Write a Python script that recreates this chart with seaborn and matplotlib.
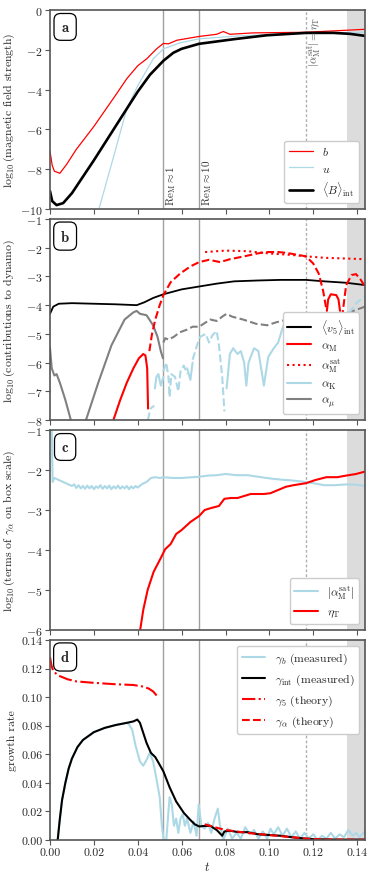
import matplotlib

matplotlib.use("Agg")
import matplotlib.pyplot as plt
import seaborn as sns
from matplotlib.lines import Line2D


T_MAX = 0.1436
T_RE1 = 0.0517
T_RE10 = 0.0679
T_SAT = 0.1167
T_SHADE = 0.1356

# panel a: log10(magnetic field strength)
a_b_t = [0, 0.001, 0.002, 0.0045, 0.0076, 0.012, 0.02, 0.0304, 0.035, 0.04, 0.0441, 0.0486,
         0.0517, 0.054, 0.0578, 0.0679, 0.076, 0.079, 0.082, 0.0927, 0.1167, 0.1436]
a_b_v = [-7.1, -7.8, -8.1, -8.2, -7.75, -7.0, -5.85, -4.2, -3.45, -2.8, -2.45, -1.95,
         -1.68, -1.7, -1.52, -1.33, -1.22, -1.08, -1.22, -1.15, -1.12, -0.97]
a_u_t = [0.0223, 0.0289, 0.035, 0.04, 0.0471, 0.0517, 0.0593, 0.0679, 0.0836, 0.1167, 0.1436]
a_u_v = [-10.0, -7.4, -4.96, -3.8, -2.45, -1.95, -1.65, -1.45, -1.32, -1.15, -1.12]
a_B_t = [0, 0.001, 0.003, 0.006, 0.01, 0.02, 0.035, 0.04, 0.0456, 0.0517, 0.0562, 0.06,
         0.0679, 0.0836, 0.0988, 0.1167, 0.1292, 0.1368, 0.1436]
a_B_v = [-9.1, -9.6, -9.8, -9.7, -9.2, -7.55, -4.96, -4.1, -3.25, -2.55, -2.15, -1.95,
         -1.7, -1.47, -1.27, -1.15, -1.15, -1.2, -1.3]

# panel b: contributions to dynamo
b_v5_t = [0, 0.0015, 0.004, 0.01, 0.02, 0.03, 0.0395, 0.043, 0.047, 0.0517, 0.06, 0.068,
          0.076, 0.084, 0.095, 0.105, 0.1167, 0.125, 0.135, 0.1436]
b_v5_v = [-4.3, -4.05, -3.95, -3.93, -3.95, -3.97, -4.0, -3.9, -3.75, -3.62, -3.45, -3.35,
          -3.25, -3.17, -3.14, -3.12, -3.12, -3.17, -3.22, -3.3]
b_aM_pos1_t = [0.0289, 0.032, 0.035, 0.038, 0.0405, 0.0425, 0.0435, 0.0443, 0.0447]
b_aM_pos1_v = [-8.0, -7.3, -6.7, -6.2, -5.85, -5.7, -5.75, -6.2, -7.6]
b_aM_neg1_t = [0.0453, 0.0465, 0.048, 0.05, 0.0517, 0.055, 0.0593, 0.064, 0.068, 0.0725,
               0.0775, 0.082, 0.0885, 0.0945, 0.0988, 0.104, 0.1079, 0.1167, 0.12, 0.1225,
               0.1245, 0.126]
b_aM_neg1_v = [-5.6, -5.0, -4.5, -4.0, -3.65, -3.2, -2.9, -2.65, -2.5, -2.42,
               -2.5, -2.4, -2.3, -2.2, -2.15, -2.15, -2.18, -2.3, -2.55, -2.9,
               -3.5, -4.15]
b_aM_pos2_t = [0.1262, 0.1268, 0.128, 0.1305, 0.1315, 0.1322]
b_aM_pos2_v = [-4.2, -3.8, -3.62, -3.65, -3.8, -4.2]
b_aM_neg2_t = [0.1325, 0.1328, 0.1335, 0.135, 0.1375, 0.1395, 0.1415, 0.1436]
b_aM_neg2_v = [-4.3, -6.1, -4.2, -3.3, -2.95, -2.92, -3.1, -3.35]
b_sat_t = [0.0707, 0.08, 0.09, 0.1, 0.11, 0.1167, 0.125, 0.1436]
b_sat_v = [-2.15, -2.1, -2.12, -2.2, -2.25, -2.3, -2.35, -2.4]
b_aK_segments = [
    ("--", [0.0446, 0.0458, 0.0475], [-8.0, -7.6, -7.5]),
    ("-", [0.0478, 0.0485, 0.0494, 0.0505, 0.0517], [-6.9, -6.5, -6.4, -6.8, -6.5]),
    ("--", [0.0517, 0.053, 0.054, 0.0545, 0.0553, 0.057, 0.0585, 0.0595, 0.061, 0.0625],
     [-6.3, -6.0, -6.5, -7.2, -6.4, -6.5, -7.0, -6.3, -6.1, -6.4]),
    ("-", [0.0625, 0.064, 0.065], [-6.2, -6.6, -6.0]),
    ("--", [0.065, 0.067, 0.0685, 0.071, 0.0725, 0.074, 0.076, 0.077, 0.0785, 0.0795],
     [-5.9, -5.4, -5.1, -5.0, -5.3, -5.05, -4.9, -5.4, -6.5, -7.7]),
    ("-", [0.0805, 0.082, 0.0835, 0.0855, 0.087, 0.0885, 0.0895, 0.0905, 0.093, 0.095,
           0.0975, 0.0995, 0.102, 0.104, 0.106, 0.1075, 0.109, 0.111, 0.113, 0.116, 0.12,
           0.124, 0.128, 0.132],
     [-6.9, -5.7, -5.5, -5.7, -5.6, -6.0, -6.8, -6.0, -5.5, -5.6,
      -6.8, -5.8, -5.5, -5.3, -4.8, -4.5, -4.55, -4.8, -4.6, -4.7, -4.55,
      -4.8, -4.6, -4.5]),
    ("--", [0.132, 0.136, 0.14, 0.1436], [-4.5, -4.3, -3.9, -3.7]),
]
b_amu_pos_t = [0, 0.0008, 0.002, 0.003, 0.0045, 0.007, 0.0095, 0.011, 0.0145, 0.0164,
               0.022, 0.028, 0.034, 0.038, 0.0395, 0.041, 0.044, 0.047, 0.049, 0.0505, 0.0515]
b_amu_pos_v = [-5.5, -6.2, -6.45, -6.4, -6.7, -7.3, -8.0, -8.6, -8.6, -8.0,
               -6.7, -5.4, -4.5, -4.25, -4.2, -4.3, -4.35, -4.7, -5.1, -5.6, -5.85]
b_amu_neg_t = [0.0517, 0.0525, 0.054, 0.0565, 0.059, 0.0625, 0.065, 0.068, 0.07, 0.073,
               0.076, 0.0785, 0.0805, 0.083, 0.088, 0.094, 0.099, 0.103, 0.108, 0.1167,
               0.125, 0.133, 0.1436]
b_amu_neg_v = [-5.3, -5.15, -5.2, -5.1, -4.95, -4.85, -4.75, -4.75, -4.65, -4.5,
               -4.55, -4.4, -4.3, -4.4, -4.5, -4.65, -4.7, -4.6, -4.5, -4.5,
               -4.4, -4.35, -4.05]

# panel c: terms of gamma_alpha on box scale
c_sat_t = [0, 0.0008, 0.0012, 0.002, 0.004, 0.006, 0.008, 0.01, 0.011, 0.012, 0.013, 0.014,
           0.015, 0.016, 0.017, 0.018, 0.019, 0.02, 0.021, 0.022, 0.023, 0.024, 0.025, 0.026,
           0.027, 0.028, 0.029, 0.03, 0.031, 0.032, 0.033, 0.034, 0.035, 0.036, 0.037, 0.038,
           0.039, 0.04, 0.042, 0.044, 0.046, 0.048, 0.05, 0.0517, 0.056, 0.06, 0.065, 0.068,
           0.072, 0.076, 0.08, 0.085, 0.09, 0.095, 0.1, 0.105, 0.11, 0.115, 0.12, 0.125,
           0.13, 0.135, 0.14, 0.1436]
c_sat_v = [-1.0, -1.0, -2.3, -2.2, -2.25, -2.3, -2.35, -2.4, -2.36, -2.45, -2.38, -2.46,
           -2.4, -2.47, -2.39, -2.46, -2.4, -2.48, -2.41, -2.45, -2.38, -2.47, -2.4, -2.46,
           -2.39, -2.48, -2.41, -2.46, -2.39, -2.47, -2.41, -2.46, -2.4, -2.48, -2.41, -2.46,
           -2.4, -2.44, -2.35, -2.3, -2.2, -2.18, -2.2, -2.18, -2.2, -2.2, -2.18, -2.17,
           -2.14, -2.13, -2.1, -2.13, -2.13, -2.17, -2.21, -2.24, -2.26, -2.29, -2.33, -2.38,
           -2.38, -2.36, -2.37, -2.4]
c_eta_t = [0.0411, 0.0425, 0.0445, 0.0472, 0.0505, 0.0525, 0.055, 0.0575, 0.06, 0.064,
           0.068, 0.0705, 0.0735, 0.077, 0.0795, 0.0825, 0.0855, 0.0885, 0.0915, 0.0975,
           0.1005, 0.104, 0.1075, 0.111, 0.1167, 0.121, 0.126, 0.131, 0.135, 0.1395, 0.1436]
c_eta_v = [-6.0, -5.5, -5.0, -4.55, -4.2, -3.98, -3.85, -3.6, -3.5, -3.3,
           -3.15, -3.0, -2.95, -2.9, -2.72, -2.7, -2.7, -2.65, -2.6, -2.6,
           -2.58, -2.5, -2.42, -2.38, -2.33, -2.25, -2.18, -2.18, -2.14, -2.1, -2.04]

# panel d: growth rates
d_int_t = [0.0035, 0.0045, 0.0055, 0.007, 0.0085, 0.01, 0.0125, 0.015, 0.02, 0.025, 0.03,
           0.035, 0.038, 0.0398, 0.041, 0.0425, 0.044, 0.046, 0.048, 0.0495, 0.0517, 0.0545,
           0.0575, 0.061, 0.064, 0.066, 0.068, 0.07, 0.073, 0.076, 0.0785, 0.0795, 0.082,
           0.086, 0.09, 0.095, 0.1, 0.105, 0.11, 0.115, 0.12, 0.13, 0.1436]
d_int_v = [0.0, 0.015, 0.028, 0.04, 0.05, 0.057, 0.065, 0.07, 0.0755, 0.0785, 0.0805,
           0.082, 0.083, 0.0843, 0.082, 0.075, 0.068, 0.061, 0.058, 0.054, 0.048, 0.037,
           0.027, 0.019, 0.014, 0.011, 0.0095, 0.0098, 0.01, 0.007, 0.003, 0.006, 0.0065,
           0.0055, 0.0055, 0.004, 0.0035, 0.003, 0.002, 0.0012, 0.0006, 0.0003, 0.0003]
d_b_t = d_int_t[:12] + [0.036, 0.0375, 0.039, 0.041, 0.0425, 0.044, 0.0455, 0.047, 0.0485,
                        0.05, 0.051, 0.0518, 0.053, 0.0545, 0.0555, 0.0565, 0.0575, 0.0585,
                        0.0595, 0.0605, 0.0615, 0.0625, 0.064, 0.0655, 0.0668, 0.0678, 0.069,
                        0.0705, 0.072, 0.0735, 0.075, 0.0765, 0.0775, 0.079, 0.081, 0.083,
                        0.085, 0.087, 0.089, 0.091, 0.093, 0.095, 0.097, 0.099, 0.1005,
                        0.102, 0.104, 0.106, 0.108, 0.11, 0.112, 0.114, 0.116, 0.118, 0.12,
                        0.122, 0.124, 0.126, 0.128, 0.13, 0.132, 0.134, 0.136, 0.138,
                        0.1395, 0.141, 0.1436]
d_b_v = d_int_v[:12] + [0.081, 0.077, 0.066, 0.055, 0.052, 0.056, 0.061, 0.055, 0.043,
                        0.03, 0.01, 0.0, 0.0, 0.03, 0.025, 0.01, 0.015, 0.005,
                        0.015, 0.018, 0.01, 0.015, 0.005, 0.013, 0.003, 0.025, 0.01,
                        0.008, 0.012, 0.005, 0.015, 0.022, 0.01, 0.0, 0.008, 0.001,
                        0.005, 0.001, 0.009, 0.004, 0.007, 0.001, 0.006, 0.001, 0.008,
                        0.004, 0.009, 0.003, 0.008, 0.002, 0.006, 0.001, 0.005, 0.001, 0.004,
                        0.0, 0.003, 0.001, 0.005, 0.001, 0.004, 0.002, 0.007, 0.003,
                        0.005, 0.002, 0.006]
d_g5_t = [0, 0.0007, 0.0015, 0.004, 0.008, 0.012, 0.02, 0.03, 0.038, 0.042, 0.045, 0.047, 0.0487]
d_g5_v = [0.128, 0.122, 0.118, 0.115, 0.1125, 0.111, 0.11, 0.109, 0.1085, 0.1075, 0.106, 0.104, 0.101]
d_ga_t = [0.0705, 0.075, 0.08, 0.09, 0.1, 0.11, 0.1167, 0.125, 0.1436]
d_ga_v = [0.011, 0.009, 0.007, 0.005, 0.0035, 0.002, 0.001, 0.0004, 0.0002]

panel_letters = ["a", "b", "c", "d"]
y_labels = [
    r"$\log_{10}$(magnetic field strength)",
    r"$\log_{10}$(contributions to dynamo)",
    r"$\log_{10}$(terms of $\gamma_\alpha$ on box scale)",
    "growth rate",
]
y_limits = [(-10, 0), (-8, -1), (-6, -1), (0, 0.14)]
x_ticks = [0.0, 0.02, 0.04, 0.06, 0.08, 0.10, 0.12, 0.14]


def line(ax, t, v, color, ls="-", lw=1.5):
    sns.lineplot(x=t, y=v, ax=ax, color=color, linestyle=ls, linewidth=lw,
                 sort=False, estimator=None)


def handle(color, ls="-", lw=1.5):
    return Line2D([], [], color=color, linestyle=ls, linewidth=lw)


sns.set_theme(style="ticks")
plt.rcParams["font.family"] = "serif"
plt.rcParams["font.serif"] = ["cmr10"]
plt.rcParams["mathtext.fontset"] = "cm"
plt.rcParams["axes.formatter.use_mathtext"] = True
plt.rcParams["font.size"] = 9

fig = plt.figure(figsize=(3.74, 8.79), dpi=100)
boxes = [(0.761, 0.9875), (0.521, 0.7497), (0.2821, 0.5097), (0.0432, 0.2708)]
axes = []
for bottom, top in boxes:
    axes.append(fig.add_axes([0.1337, bottom, 0.976 - 0.1337, top - bottom]))

legend_style = dict(fontsize=8.5, framealpha=1, edgecolor="#cccccc",
                    borderaxespad=0.5, handlelength=2.0)

for i, ax in enumerate(axes):
    ax.axvspan(T_SHADE, T_MAX, color="#dcdcdc", lw=0, zorder=0)
    ax.axvline(T_RE1, color="#a0a0a0", lw=1.0, zorder=1)
    ax.axvline(T_RE10, color="#a0a0a0", lw=1.0, zorder=1)
    ax.axvline(T_SAT, color="#b0b0b0", lw=1.0, ls=(0, (2, 1.5)), zorder=1)
    ax.set_xlim(0, T_MAX)
    ax.set_ylim(*y_limits[i])
    ax.set_xticks(x_ticks)
    ax.set_ylabel(y_labels[i], fontsize=8.5)
    ax.yaxis.set_label_coords(-0.105, 0.5)
    ax.tick_params(labelsize=8.5, color="#555555", length=3.5, width=0.8, pad=2)
    for s in ax.spines.values():
        s.set_color("#555555")
        s.set_linewidth(1.2)
    ax.text(0.048, 0.915, r"$\mathbf{" + panel_letters[i] + "}$", transform=ax.transAxes,
            ha="center", va="center", fontsize=10.5,
            bbox=dict(boxstyle="round,pad=0.45", fc="white", ec="black", lw=0.9))
    if i < 3:
        ax.set_xticklabels([])
    else:
        ax.set_xticklabels([f"{x:.2f}" for x in x_ticks])
        ax.set_xlabel(r"$t$", fontsize=9, labelpad=2)

# a
ax = axes[0]
ax.set_yticks([0, -2, -4, -6, -8, -10])
line(ax, a_b_t, a_b_v, "red", lw=0.9)
line(ax, a_u_t, a_u_v, "lightblue", lw=0.9)
line(ax, a_B_t, a_B_v, "black", lw=1.9)
ax.text(T_RE1 + 0.0004, -9.8, r"$\mathrm{Re}_\mathrm{M}\approx 1$", rotation=90,
        ha="left", va="bottom", fontsize=8, color="#333333")
ax.text(T_RE10 + 0.0004, -9.8, r"$\mathrm{Re}_\mathrm{M}\approx 10$", rotation=90,
        ha="left", va="bottom", fontsize=8, color="#333333")
ax.text(T_SAT + 0.0004, -0.3, r"$|\alpha_\mathrm{M}^\mathrm{sat}| = \eta_\mathrm{T}$",
        rotation=90, ha="left", va="top", fontsize=8, color="#555555")
ax.legend([handle("red", lw=0.9), handle("lightblue", lw=0.9), handle("black", lw=1.9)],
          [r"$b$", r"$u$", r"$\langle B\rangle_\mathrm{int}$"], loc="lower right",
          **legend_style)

# b
ax = axes[1]
ax.set_yticks([-1, -2, -3, -4, -5, -6, -7, -8])
line(ax, b_v5_t, b_v5_v, "black", lw=1.3)
line(ax, b_amu_pos_t, b_amu_pos_v, "gray")
line(ax, b_amu_neg_t, b_amu_neg_v, "gray", ls="--")
for ls, t, v in b_aK_segments:
    line(ax, t, v, "lightblue", ls=ls)
line(ax, b_aM_pos1_t, b_aM_pos1_v, "red")
line(ax, b_aM_neg1_t, b_aM_neg1_v, "red", ls="--")
line(ax, b_aM_pos2_t, b_aM_pos2_v, "red")
line(ax, b_aM_neg2_t, b_aM_neg2_v, "red", ls="--")
line(ax, b_sat_t, b_sat_v, "red", ls=":")
ax.legend([handle("black"), handle("red"), handle("red", ":"), handle("lightblue"),
           handle("gray")],
          [r"$\langle v_5\rangle_\mathrm{int}$", r"$\alpha_\mathrm{M}$",
           r"$\alpha_\mathrm{M}^\mathrm{sat}$", r"$\alpha_\mathrm{K}$", r"$\alpha_\mu$"],
          loc="lower right", labelspacing=0.35, **legend_style)

# c
ax = axes[2]
ax.set_yticks([-1, -2, -3, -4, -5, -6])
line(ax, c_sat_t, c_sat_v, "lightblue")
line(ax, c_eta_t, c_eta_v, "red")
ax.legend([handle("lightblue"), handle("red")],
          [r"$|\alpha_\mathrm{M}^\mathrm{sat}|$", r"$\eta_\mathrm{T}$"],
          loc="lower right", **legend_style)

# d
ax = axes[3]
ax.set_yticks([0, 0.02, 0.04, 0.06, 0.08, 0.10, 0.12, 0.14])
ax.set_yticklabels([f"{y:.2f}" for y in ax.get_yticks()])
line(ax, d_b_t, d_b_v, "lightblue")
line(ax, d_int_t, d_int_v, "black")
line(ax, d_g5_t, d_g5_v, "red", ls="-.")
line(ax, d_ga_t, d_ga_v, "red", ls="--")
ax.legend([handle("lightblue"), handle("black"), handle("red", "-."), handle("red", "--")],
          [r"$\gamma_b$ (measured)", r"$\gamma_\mathrm{int}$ (measured)",
           r"$\gamma_5$ (theory)", r"$\gamma_\alpha$ (theory)"],
          loc="upper right", **legend_style)

fig.savefig("out.png", dpi=100)
